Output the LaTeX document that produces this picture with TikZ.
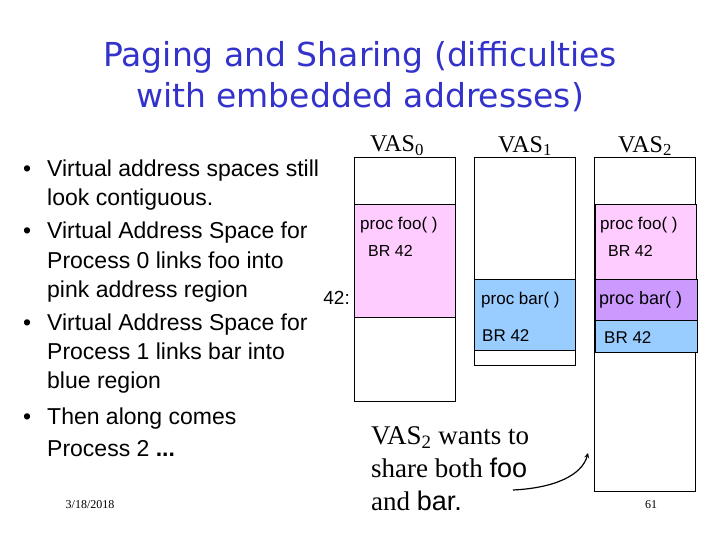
\documentclass[tikz,border=0pt]{standalone}
\usepackage{fontspec}
\setmainfont{Liberation Serif}
\setsansfont{Liberation Sans}
\newfontfamily\titlefont{DejaVu Sans}
\definecolor{pinkr}{HTML}{FFCCFF}
\definecolor{bluer}{HTML}{99CCFF}
\definecolor{purpr}{HTML}{CC99FF}
\definecolor{titleblue}{HTML}{3333CC}
\begin{document}
\begin{tikzpicture}[x=1pt,y=-1pt,
  box/.style={draw,line width=0.8pt},
  lab/.style={font=\sffamily\fontsize{17}{18}\selectfont,anchor=west,inner sep=0},
  vas/.style={font=\rmfamily\fontsize{24}{24}\selectfont,inner sep=0}]
\useasboundingbox[fill=white] (0,0) rectangle (720,540);
\node[font=\titlefont\fontsize{33}{41}\selectfont,text=titleblue,align=center] (title) at (360,77) {Paging and Sharing (difficulties\\with embedded addresses)};
% boxes
\draw[box] (354,157) rectangle (455,401);
\draw[box,fill=pinkr] (354,204) rectangle (455,317);
\draw[box] (474,157) rectangle (575,365);
\draw[box,fill=bluer] (474,279) rectangle (575,350);
\draw[box] (594,157) rectangle (695,491);
\draw[box,fill=pinkr] (595,204) rectangle (696,279);
\draw[box,fill=purpr] (595,279) rectangle (697,320);
\draw[box,fill=bluer] (595,320) rectangle (697,352);
\node[vas] (v0) at (397,146) {VAS\textsubscript{0}};
\node[vas] (v1) at (525,146) {VAS\textsubscript{1}};
\node[vas] (v2) at (645,146) {VAS\textsubscript{2}};
\node[lab] (f0) at (360,225) {proc foo( )};
\node[lab,font=\sffamily\fontsize{16}{18}\selectfont] (b0) at (368,251) {BR 42};
\node[lab] (r1) at (481,300) {proc bar( )};
\node[lab] (b1) at (482,336) {BR 42};
\node[lab] (f2) at (600,225) {proc foo( )};
\node[lab,font=\sffamily\fontsize{16}{18}\selectfont] (b2) at (608,251) {BR 42};
\node[lab,font=\sffamily\fontsize{18}{18}\selectfont] (r2) at (599,300) {proc bar( )};
\node[lab] (b2b) at (604,338) {BR 42};
\node[lab,font=\sffamily\fontsize{19}{18}\selectfont,anchor=east] (ft) at (350,298) {42:};
% bullets
\begin{scope}[every node/.style={font=\sffamily\fontsize{23}{24}\selectfont,anchor=base west,inner sep=0}]
\node (a1) at (23,177) {•};\node (t1) at (47,177) {Virtual address spaces still};
\node (t1b) at (47,206) {look contiguous.};
\node (a2) at (23,239) {•};\node (t2) at (47,239) {Virtual Address Space for};
\node (t2b) at (47,268) {Process 0 links foo into};
\node (t2c) at (47,297) {pink address region};
\node (a3) at (23,330) {•};\node (t3) at (47,330) {Virtual Address Space for};
\node (t3b) at (47,359) {Process 1 links bar into};
\node (t3c) at (47,388) {blue region};
\node (a4) at (23,424) {•};\node (t4) at (47,424) {Then along comes};
\node (t4b) at (47,456) {Process 2 \textbf{...}};
\end{scope}
\node[font=\rmfamily\fontsize{12}{14}\selectfont] (date) at (90,505) {3/18/2018};
\node[font=\rmfamily\fontsize{12}{14}\selectfont] (pg) at (651,505) {61};
\node[font=\rmfamily\fontsize{27}{33}\selectfont,anchor=north west,align=left,inner sep=0] (msg) at (371,426) {VAS\textsubscript{2} wants to\\share both \textsf{foo}\\and \textsf{bar.}};
\coordinate (e1) at (513,490);
\coordinate (e2) at (588,453);
\draw[line width=1.2pt,-stealth] (e1) .. controls (555,488) and (582,475) .. (e2);
\end{tikzpicture}
\end{document}
